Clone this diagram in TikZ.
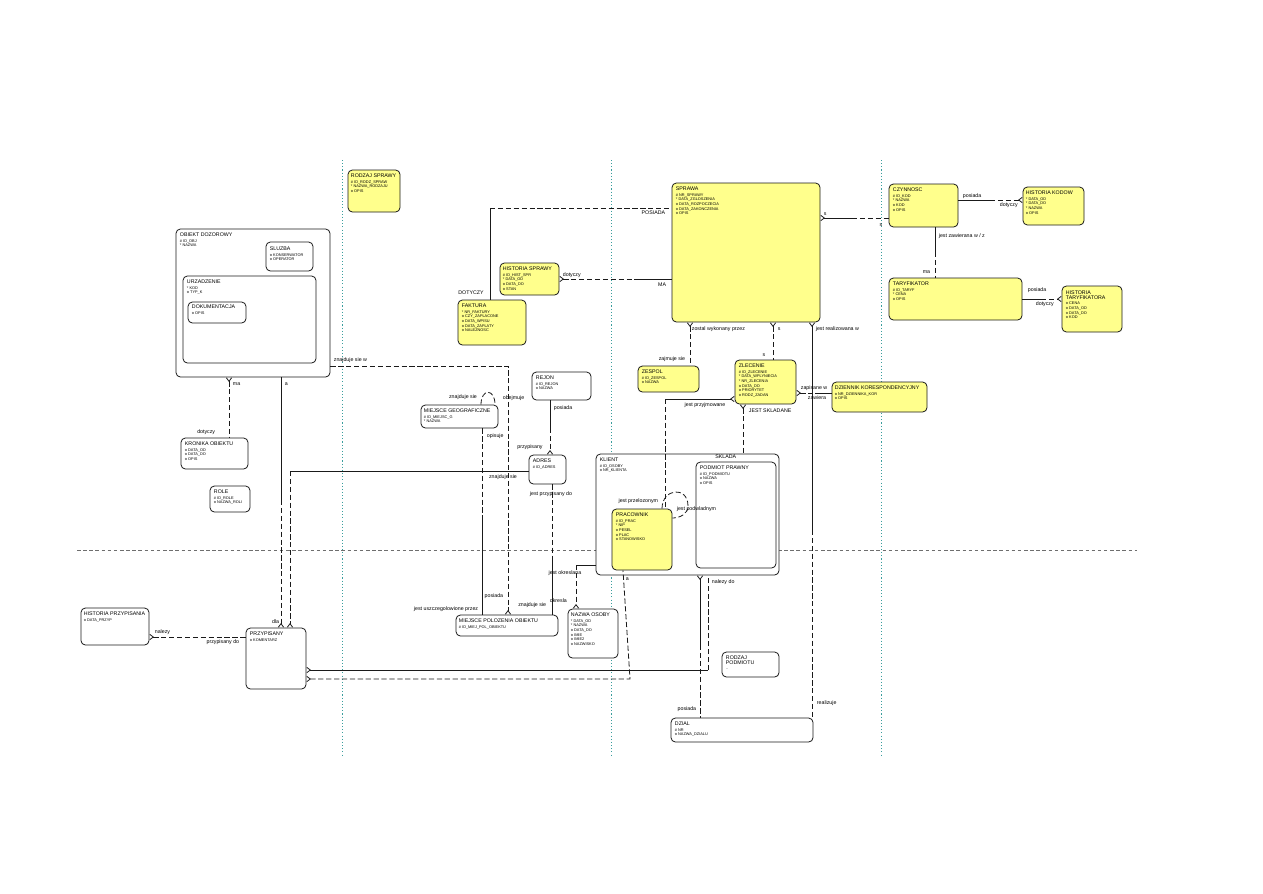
\documentclass[tikz,border=0pt]{standalone}
\usepackage{fontspec}
\setmainfont{Liberation Sans}
\usepackage{xcolor}
\usetikzlibrary{positioning,arrows.meta,fit,calc}
\definecolor{erYellow}{HTML}{FFFF8C}
\definecolor{erLine}{HTML}{1A1A1A}
\definecolor{erGrey}{HTML}{6E6E6E}
\definecolor{erTeal}{HTML}{3A9E9E}
\newcommand{\ettl}[1]{{\fontsize{3}{3.4}\selectfont #1}}

\begin{document}
\begin{tikzpicture}[
  x=0.02cm, y=-0.02cm,
  ent/.style={rounded corners=2.5pt, draw=erLine, line width=0.45pt, fill=white, inner sep=0pt},
  yent/.style={ent, fill=erYellow},
  etext/.style={anchor=north west, align=left, inner sep=0pt, font=\fontsize{2.2}{2.65}\selectfont},
  must/.style={draw=erLine, line width=0.45pt},
  may/.style={must, dash pattern=on 3pt off 1.5pt},
  crows/.style={{Straight Barb[reversed, length=2pt, width=3pt]}-},
  crowe/.style={-{Straight Barb[reversed, length=2pt, width=3pt]}},
  rl/.style={font=\fontsize{3}{3.5}\selectfont, inner sep=0.3pt},
  sep/.style={draw=erTeal, line width=0.5pt, dash pattern=on 0.6pt off 1.2pt},
]

% ── Page and separators ───────────────────────────────────────────────────────
\path[use as bounding box, fill=white] (0,0) rectangle (1263,893);
\draw[sep] (342,160) -- (342,755);
\draw[sep] (611,160) -- (611,755);
\draw[sep] (881,160) -- (881,755);
\draw[draw=erGrey, line width=0.5pt, dash pattern=on 2pt off 1.5pt] (77,550) -- (1137,550);

% ── Left column: object and its parts ─────────────────────────────────────────
\node[ent, fit={(176,229)(330,377)}] (obiekt) {};
\node[etext] (obiekt-t) at ([shift={(4,4)}]obiekt.north west) {\ettl{OBIEKT DOZOROWY}\\[0.5pt]\# ID\_OBJ\\* NAZWA};
\node[ent, fit={(266,242)(313,271)}] (sluzba) {};
\node[etext] (sluzba-t) at ([shift={(4,5)}]sluzba.north west) {\ettl{SLUZBA}\\[0.5pt]o KONSERWATOR\\o OPERATOR};
\node[ent, fit={(183,276)(316,363)}] (urzadz) {};
\node[etext] (urzadz-t) at ([shift={(4,4)}]urzadz.north west) {\ettl{URZADZENIE}\\[0.5pt]* KOD\\o TYP\_K};
\node[ent, fit={(188,302)(246,323)}] (dokum) {};
\node[etext] (dokum-t) at ([shift={(4,3)}]dokum.north west) {\ettl{DOKUMENTACJA}\\[0.5pt]o OPIS};
\node[ent, fit={(181,438)(248,469)}] (kronika) {};
\node[etext] (kronika-t) at ([shift={(4,4)}]kronika.north west) {\ettl{KRONIKA OBIEKTU}\\[0.5pt]o DATA\_OD\\o DATA\_DO\\o OPIS};
\node[ent, fit={(210,486)(250,512)}] (role) {};
\node[etext] (role-t) at ([shift={(4,4)}]role.north west) {\ettl{ROLE}\\[0.5pt]\# ID\_ROLE\\o NAZWA\_ROLI};
\node[ent, fit={(81,608)(149,645)}] (histprz) {};
\node[etext] (histprz-t) at ([shift={(3,4)}]histprz.north west) {\ettl{HISTORIA PRZYPISANIA}\\[0.5pt]o DATA\_PRZYP};
\node[ent, fit={(246,628)(306,689)}] (przyp) {};
\node[etext] (przyp-t) at ([shift={(4,4)}]przyp.north west) {\ettl{PRZYPISANY}\\[0.5pt]o KOMENTARZ};

% ── Cases, invoices ───────────────────────────────────────────────────────────
\node[yent, fit={(348,170)(400,212)}] (rodzspr) {};
\node[etext] (rodzspr-t) at ([shift={(3,4)}]rodzspr.north west) {\ettl{RODZAJ SPRAWY}\\[0.5pt]\# ID\_RODZ\_SPRAW\\* NAZWA\_RODZAJU\\o OPIS};
\node[yent, fit={(672,183)(820,322)}] (sprawa) {};
\node[etext] (sprawa-t) at ([shift={(4,4)}]sprawa.north west) {\ettl{SPRAWA}\\[0.5pt]\# NR\_SPRAWY\\* DATA\_ZGLOSZENIA\\o DATA\_ROZPOCZECIA\\o DATA\_ZAKONCZENIA\\o OPIS};
\node[yent, fit={(500,263)(559,295)}] (histspr) {};
\node[etext] (histspr-t) at ([shift={(3,4)}]histspr.north west) {\ettl{HISTORIA SPRAWY}\\[0.5pt]\# ID\_HIST\_SPR\\* DATA\_OD\\o DATA\_DO\\o STAN};
\node[yent, fit={(458,300)(526,345)}] (faktura) {};
\node[etext] (faktura-t) at ([shift={(4,4)}]faktura.north west) {\ettl{FAKTURA}\\[0.5pt]* NR\_FAKTURY\\o CZY\_ZAPLACONE\\o DATA\_WPISU\\o DATA\_ZAPLATY\\o NALEZNOSC};

% ── Activities and tariffs ────────────────────────────────────────────────────
\node[yent, fit={(889,184)(958,227)}] (czyn) {};
\node[etext] (czyn-t) at ([shift={(4,4)}]czyn.north west) {\ettl{CZYNNOSC}\\[0.5pt]\# ID\_KOD\\* NAZWA\\o KOD\\o OPIS};
\node[yent, fit={(1023,187)(1084,225)}] (histkod) {};
\node[etext] (histkod-t) at ([shift={(3,4)}]histkod.north west) {\ettl{HISTORIA KODOW}\\[0.5pt]* DATA\_OD\\* DATA\_DO\\* NAZWA\\o OPIS};
\node[yent, fit={(889,278)(1022,320)}] (taryf) {};
\node[etext] (taryf-t) at ([shift={(4,4)}]taryf.north west) {\ettl{TARYFIKATOR}\\[0.5pt]\# ID\_TARYF\\* CENA\\o OPIS};
\node[yent, fit={(1062,286)(1122,332)}] (histtar) {};
\node[etext] (histtar-t) at ([shift={(4,5)}]histtar.north west) {\ettl{HISTORIA}\\\ettl{TARYFIKATORA}\\[0.5pt]o CENA\\o DATA\_OD\\o DATA\_DO\\o KOD};

% ── Orders, teams, correspondence ─────────────────────────────────────────────
\node[yent, fit={(638,366)(699,392)}] (zespol) {};
\node[etext] (zespol-t) at ([shift={(4,4)}]zespol.north west) {\ettl{ZESPOL}\\[0.5pt]\# ID\_ZESPOL\\o NAZWA};
\node[yent, fit={(735,360)(796,404)}] (zlecenie) {};
\node[etext] (zlecenie-t) at ([shift={(4,4)}]zlecenie.north west) {\ettl{ZLECENIE}\\[0.5pt]\# ID\_ZLECENIE\\* DATA\_WPLYNIECIA\\* NR\_ZLECENIA\\o DATA\_DO\\o PRIORYTET\\o RODZ\_ZADAN};
\node[yent, fit={(832,382)(927,412)}] (dziennik) {};
\node[etext] (dziennik-t) at ([shift={(3,4)}]dziennik.north west) {\ettl{DZIENNIK KORESPONDENCYJNY}\\[0.5pt]o NR\_DZIENNIKA\_KOR\\o OPIS};

% ── Places and addresses ──────────────────────────────────────────────────────
\node[ent, fit={(421,405)(498,428)}] (miejgeo) {};
\node[etext] (miejgeo-t) at ([shift={(3,4)}]miejgeo.north west) {\ettl{MIEJSCE GEOGRAFICZNE}\\[0.5pt]\# ID\_MIEJSC\_G\\* NAZWA};
\node[ent, fit={(532,372)(591,400)}] (rejon) {};
\node[etext] (rejon-t) at ([shift={(4,4)}]rejon.north west) {\ettl{REJON}\\[0.5pt]\# ID\_REJON\\o NAZWA};
\node[ent, fit={(529,455)(566,484)}] (adres) {};
\node[etext] (adres-t) at ([shift={(4,4)}]adres.north west) {\ettl{ADRES}\\[0.5pt]\# ID\_ADRES};
\node[ent, fit={(456,615)(558,636)}] (miejpol) {};
\node[etext] (miejpol-t) at ([shift={(3,4)}]miejpol.north west) {\ettl{MIEJSCE POLOZENIA OBIEKTU}\\[0.5pt]\# ID\_MIEJ\_POL\_OBIEKTU};
\node[ent, fit={(568,609)(618,658)}] (nazwaos) {};
\node[etext] (nazwaos-t) at ([shift={(3,4)}]nazwaos.north west) {\ettl{NAZWA OSOBY}\\[0.5pt]* DATA\_OD\\* NAZWA\\o DATA\_DO\\o IMIE\\o IMIE2\\o NAZWISKO};

% ── Clients ───────────────────────────────────────────────────────────────────
\node[ent, fit={(596,454)(779,575)}] (klient) {};
\node[etext] (klient-t) at ([shift={(4,4)}]klient.north west) {\ettl{KLIENT}\\[0.5pt]\# ID\_OSOBY\\o NR\_KLIENTA};
\node[yent, fit={(612,509)(672,570)}] (prac) {};
\node[etext] (prac-t) at ([shift={(4,4)}]prac.north west) {\ettl{PRACOWNIK}\\[0.5pt]\# ID\_PRAC\\* NIP\\o PESEL\\o PLAC\\o STANOWISKO};
\node[ent, fit={(696,462)(776,568)}] (podmiot) {};
\node[etext] (podmiot-t) at ([shift={(4,4)}]podmiot.north west) {\ettl{PODMIOT PRAWNY}\\[0.5pt]\# ID\_PODMIOTU\\o NAZWA\\o OPIS};
\node[ent, fit={(722,652)(779,677)}] (rodzpod) {};
\node[etext] (rodzpod-t) at ([shift={(4,4)}]rodzpod.north west) {\ettl{RODZAJ}\\\ettl{PODMIOTU}\\[0.5pt]..};
\node[ent, fit={(671,718)(813,742)}] (dzial) {};
\node[etext] (dzial-t) at ([shift={(4,4)}]dzial.north west) {\ettl{DZIAL}\\[0.5pt]\# NR\\o NAZWA\_DZIALU};

% ── Relationships ─────────────────────────────────────────────────────────────
\draw[must] (faktura.north -| 490,0) -- (490,208) coordinate (fs-m);
\draw[may] (fs-m) -- (sprawa.west |- fs-m);
\draw[may, crows] (histspr.east |- 0,279) -- (640,279) coordinate (hs-m);
\draw[must] (hs-m) -- (sprawa.west |- hs-m);
\draw[must, crows] (sprawa.east |- 0,218) -- (852,218) coordinate (sc-m);
\draw[may] (sc-m) -- (czyn.west |- sc-m);
\draw[must] (czyn.east |- 0,200) -- (990,200) coordinate (ck-m);
\draw[may, crowe] (ck-m) -- (histkod.west |- ck-m);
\draw[must] (czyn.south -| 935,0) -- (935,252) coordinate (ct-m);
\draw[may] (ct-m) -- (taryf.north -| ct-m);
\draw[must] (taryf.east |- 0,299) -- (1041,299) coordinate (th-m);
\draw[may, crowe] (th-m) -- (histtar.west |- th-m);

\draw[may, crows] (sprawa.south -| 690,0) -- (zespol.north -| 690,0);
\draw[may, crows] (sprawa.south -| 773,0) -- (zlecenie.north -| 773,0);
\draw[must, crows] (sprawa.south -| 812,0) -- (812,530) coordinate (sd-m);
\draw[may] (sd-m) -- (dzial.north -| sd-m);
\draw[may, crows] (zlecenie.east |- 0,393) -- (815,393) coordinate (zd-m);
\draw[must] (zd-m) -- (dziennik.west |- zd-m);
\draw[must, crows] (zlecenie.west |- 0,399) -- (665,399) coordinate (zp-m);
\draw[may] (zp-m) -- (prac.north -| zp-m);
\draw[may, crows] (zlecenie.south -| 743,0) -- (klient.north -| 743,0);
\draw[may] (prac.north -| 662,0) to[out=90, in=90, looseness=2] (688,506) to[out=-90, in=0] (prac.east |- 0,518);

\draw[must] (rejon.south -| 550,0) -- (550,428) coordinate (ra-m);
\draw[may, crowe] (ra-m) -- (adres.north -| ra-m);
\draw[may] (miejgeo.north -| 481,0) to[out=90, in=90, looseness=3] (miejgeo.north -| 495,0);
\draw[may] (miejgeo.south -| 482,0) -- (482,520) coordinate (mm-m);
\draw[must] (mm-m) -- (miejpol.north -| mm-m);
\draw[may, crowe] (obiekt.east |- 0,366) -| (miejpol.north -| 508,0);
\draw[may] (adres.south -| 552,0) -- (552,560) coordinate (am-m);
\draw[must] (am-m) -- (miejpol.north -| am-m);
\draw[must] (klient.west |- 0,565) -- (576,565) coordinate (kn-m);
\draw[may, crowe] (kn-m) -- (nazwaos.north -| kn-m);

\draw[may, crows] (obiekt.south -| 229,0) -- (kronika.north -| 229,0);
\draw[must] (obiekt.south -| 281,0) -- (281,500) coordinate (op-m);
\draw[may, crowe] (op-m) -- (przyp.north -| op-m);
\draw[must] (adres.west |- 0,471) -- (290,471) coordinate (ap-m);
\draw[may, crowe] (ap-m) -- (przyp.north -| ap-m);
\draw[must, crows] (przyp.east |- 0,670) -- (708,670) coordinate (kp-m);
\draw[may] (kp-m) -- (klient.south -| kp-m);
\draw[may, crows] (przyp.east |- 0,679) -- (630,679) -- (prac.south -| 623,0);
\draw[must, crows] (klient.south -| 700,0) -- (700,645) coordinate (kd-m);
\draw[may] (kd-m) -- (dzial.north -| kd-m);
\draw[may, crows] (histprz.east |- 0,637) -- (przyp.west |- 0,637);

% ── Relationship labels ───────────────────────────────────────────────────────
\node[rl] (l-fak) at (471,293) {DOTYCZY};
\node[rl, anchor=east] (l-spr1) at (666,213) {POSIADA};
\node[rl, anchor=west] (l-hs1) at (562,275) {dotyczy};
\node[rl, anchor=east] (l-hs2) at (667,285) {MA};
\node[rl, anchor=west] (l-sc1) at (823,214) {s};
\node[rl] (l-sc2) at (881,225) {s};
\node[rl, anchor=west] (l-ck1) at (962,196) {posiada};
\node[rl, anchor=west] (l-ck2) at (999,205) {dotyczy};
\node[rl, anchor=west] (l-ct1) at (938,236) {jest zawierana w / z};
\node[rl, anchor=east] (l-ct2) at (931,272) {ma};
\node[rl, anchor=west] (l-th1) at (1027,290) {posiada};
\node[rl, anchor=west] (l-th2) at (1035,304) {dotyczy};
\node[rl, anchor=west] (l-sz1) at (691,329) {zostal wykonany przez};
\node[rl, anchor=east] (l-sz2) at (686,359) {zajmuje sie};
\node[rl, anchor=west] (l-sl1) at (777,329) {s};
\node[rl] (l-sl2) at (764,355) {s};
\node[rl, anchor=west] (l-sd1) at (815,329) {jest realizowana w};
\node[rl, anchor=west] (l-sd2) at (816,703) {realizuje};
\node[rl, anchor=west] (l-zd1) at (800,388) {zapisane w};
\node[rl, anchor=west] (l-zd2) at (807,398) {zawiera};
\node[rl] (l-zp1) at (705,405) {jest przyjmowane};
\node[rl, anchor=west] (l-zk1) at (748,411) {JEST SKLADANE};
\node[rl, anchor=east] (l-zk2) at (737,457) {SKLADA};
\node[rl, anchor=east] (l-pp1) at (659,501) {jest przelozonym};
\node[rl, anchor=west] (l-pp2) at (676,509) {jest podwladnym};
\node[rl] (l-mg1) at (463,397) {znajduje sie};
\node[rl, anchor=west] (l-mg2) at (502,398) {obejmuje};
\node[rl, anchor=west] (l-ra1) at (553,408) {posiada};
\node[rl] (l-ra2) at (530,447) {przypisany};
\node[rl, anchor=west] (l-mm1) at (486,436) {opisuje};
\node[rl, anchor=east] (l-mm2) at (479,609) {jest uszczegolowione przez};
\node[rl, anchor=west] (l-om1) at (333,360) {znajduje sie w};
\node[rl, anchor=east] (l-om2) at (504,596) {posiada};
\node[rl] (l-am1) at (551,494) {jest przypisany do};
\node[rl, anchor=east] (l-am2) at (547,605) {znajduje sie};
\node[rl, anchor=west] (l-kn2) at (549,601) {okresla};
\node[rl] (l-kn1) at (565,573) {jest okreslana};
\node[rl] (l-ap1) at (503,477) {znajduje sie};
\node[rl, anchor=west] (l-ok1) at (232,384) {ma};
\node[rl, anchor=east] (l-ok2) at (216,432) {dotyczy};
\node[rl, anchor=west] (l-op1) at (284,384) {a};
\node[rl, anchor=east] (l-op2) at (280,622) {dla};
\node[rl, anchor=west] (l-hp1) at (154,632) {nalezy};
\node[rl, anchor=east] (l-hp2) at (240,642) {przypisany do};
\node[rl, anchor=west] (l-kp1) at (711,582) {nalezy do};
\node[rl, anchor=west] (l-pr1) at (625,579) {a};
\node[rl, anchor=east] (l-kd1) at (697,709) {posiada};

\end{tikzpicture}
\end{document}
